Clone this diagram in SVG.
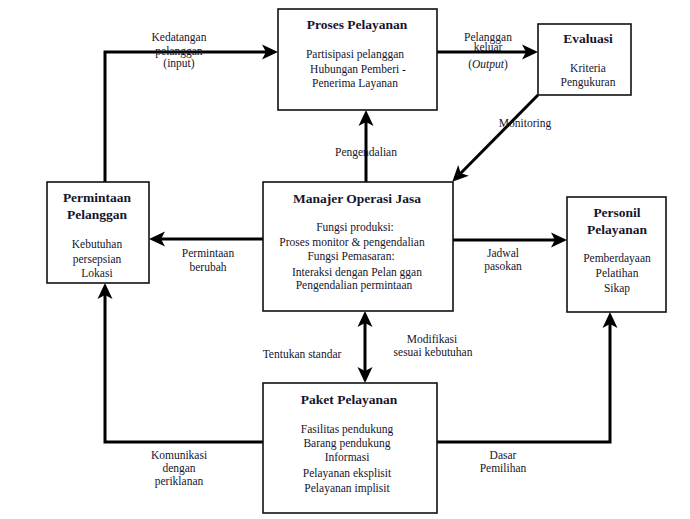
<svg xmlns="http://www.w3.org/2000/svg" width="690" height="519" viewBox="0 0 690 519">
<style>
.box{fill:#fff;stroke:#111;stroke-width:1.6}
.t{font-family:"Liberation Serif","Times New Roman",serif;fill:#15152e;text-anchor:middle}
.h{font-size:13.5px;font-weight:bold}
.b{font-size:11.5px}
.c{fill:none;stroke:#000;stroke-width:3}
</style>
<defs>
<marker id="ah" viewBox="0 0 16 16" refX="10" refY="8" markerWidth="16" markerHeight="16" markerUnits="userSpaceOnUse" orient="auto-start-reverse">
<path d="M0,0.5 L16,8 L0,15.5 L4,8 z" fill="#000"/>
</marker>
</defs>
<g id="connectors">
<path class="c" d="M105,183 V52 H272" marker-end="url(#ah)"/>
<path class="c" d="M437,52 H532" marker-end="url(#ah)"/>
<path class="c" d="M538,95 L456.5,177.5" marker-end="url(#ah)"/>
<path class="c" d="M366,182 V116" marker-end="url(#ah)"/>
<path class="c" d="M263,239 H155" marker-end="url(#ah)"/>
<path class="c" d="M453,240 H561" marker-end="url(#ah)"/>
<path class="c" d="M365,317 V377" marker-start="url(#ah)" marker-end="url(#ah)"/>
<path class="c" d="M263,442 H105 V289" marker-end="url(#ah)"/>
<path class="c" d="M437,442 H610 V318" marker-end="url(#ah)"/>
<text class="t b" x="179" y="41">Kedatangan</text>
<text class="t b" x="179" y="55">pelanggan</text>
<text class="t b" x="179" y="67">(input)</text>
<text class="t b" x="488" y="41">Pelanggan</text>
<text class="t b" x="488" y="51">keluar</text>
<text class="t b" x="488" y="68">(<tspan font-style="italic">Output</tspan>)</text>
<text class="t b" x="525" y="127">Monitoring</text>
<text class="t b" x="366" y="156">Pengendalian</text>
<text class="t b" x="208" y="257">Permintaan</text>
<text class="t b" x="208" y="271">berubah</text>
<text class="t b" x="503" y="257">Jadwal</text>
<text class="t b" x="503" y="270">pasokan</text>
<text class="t b" x="302" y="358">Tentukan standar</text>
<text class="t b" x="432" y="343">Modifikasi</text>
<text class="t b" x="433" y="356">sesuai kebutuhan</text>
<text class="t b" x="179" y="459">Komunikasi</text>
<text class="t b" x="179" y="472">dengan</text>
<text class="t b" x="179" y="485">periklanan</text>
<text class="t b" x="503" y="459">Dasar</text>
<text class="t b" x="503" y="472">Pemilihan</text>
</g>
<g id="proses">
<rect class="box" x="278" y="9" width="159" height="101"/>
<text class="t h" x="357" y="29">Proses Pelayanan</text>
<text class="t b" x="355" y="58">Partisipasi pelanggan</text>
<text class="t b" x="358" y="73">Hubungan Pemberi  -</text>
<text class="t b" x="355" y="87">Penerima Layanan</text>
</g>
<g id="evaluasi">
<rect class="box" x="538" y="24" width="93" height="71"/>
<text class="t h" x="588" y="43">Evaluasi</text>
<text class="t b" x="588" y="72">Kriteria</text>
<text class="t b" x="588" y="86">Pengukuran</text>
</g>
<g id="permintaan">
<rect class="box" x="47" y="182" width="102" height="101"/>
<text class="t h" x="97" y="202">Permintaan</text>
<text class="t h" x="97" y="219">Pelanggan</text>
<text class="t b" x="97" y="248">Kebutuhan</text>
<text class="t b" x="97" y="263">persepsian</text>
<text class="t b" x="97" y="277">Lokasi</text>
</g>
<g id="manajer">
<rect class="box" x="263" y="182" width="190" height="129"/>
<text class="t h" x="357" y="203">Manajer Operasi Jasa</text>
<text class="t b" x="355" y="231">Fungsi produksi:</text>
<text class="t b" x="352" y="246">Proses monitor &amp; pengendalian</text>
<text class="t b" x="351" y="260">Fungsi Pemasaran:</text>
<text class="t b" x="357" y="276">Interaksi dengan Pelan   ggan</text>
<text class="t b" x="354" y="289">Pengendalian permintaan</text>
</g>
<g id="personil">
<rect class="box" x="567" y="197" width="99" height="115"/>
<text class="t h" x="617" y="217">Personil</text>
<text class="t h" x="617" y="234">Pelayanan</text>
<text class="t b" x="617" y="262">Pemberdayaan</text>
<text class="t b" x="617" y="277">Pelatihan</text>
<text class="t b" x="617" y="292">Sikap</text>
</g>
<g id="paket">
<rect class="box" x="263" y="383" width="174" height="130"/>
<text class="t h" x="349" y="404">Paket Pelayanan</text>
<text class="t b" x="347" y="433">Fasilitas pendukung</text>
<text class="t b" x="347" y="447">Barang pendukung</text>
<text class="t b" x="347" y="461">Informasi</text>
<text class="t b" x="347" y="477">Pelayanan eksplisit</text>
<text class="t b" x="347" y="492">Pelayanan implisit</text>
</g>
</svg>
